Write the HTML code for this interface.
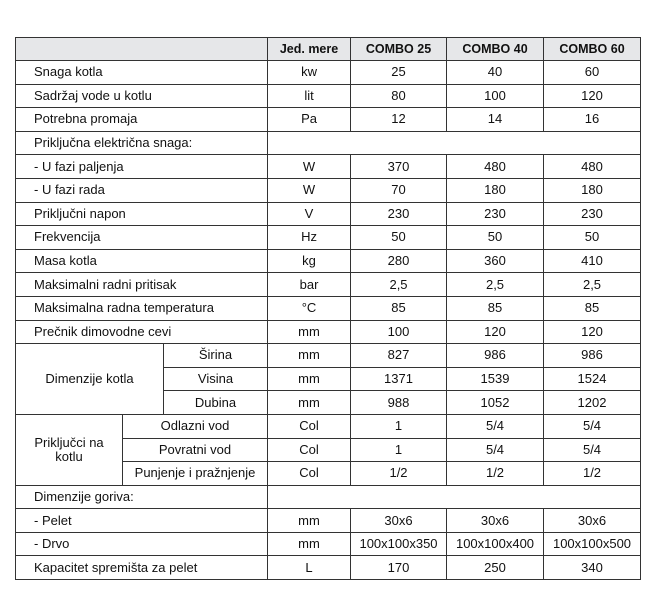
<!DOCTYPE html>
<html><head><meta charset="utf-8"><style>
html,body{margin:0;padding:0;background:#fff;width:657px;height:611px;overflow:hidden}
table{position:absolute;left:15px;top:37px;border-collapse:collapse;table-layout:fixed;width:625px;font-family:"Liberation Sans",Arial,sans-serif;font-size:13px;color:#111}
td{border:1.4px solid #333;padding:0;text-align:center;height:22.6px;line-height:14px;white-space:nowrap;overflow:hidden}
tr.h td{background:#e6e7e9;font-weight:bold;height:22px;font-size:12.5px}
td.l{text-align:left;padding-left:18px}
</style></head><body>
<table>
<colgroup><col style="width:107px"><col style="width:41px"><col style="width:104px"><col style="width:83px"><col style="width:96px"><col style="width:97px"><col style="width:97px"></colgroup>
<tr class="h"><td colspan="3"></td><td>Jed. mere</td><td>COMBO 25</td><td>COMBO 40</td><td>COMBO 60</td></tr>
<tr><td colspan="3" class="l">Snaga kotla</td><td>kw</td><td>25</td><td>40</td><td>60</td></tr>
<tr><td colspan="3" class="l">Sadržaj vode u kotlu</td><td>lit</td><td>80</td><td>100</td><td>120</td></tr>
<tr><td colspan="3" class="l">Potrebna promaja</td><td>Pa</td><td>12</td><td>14</td><td>16</td></tr>
<tr><td colspan="3" class="l">Priključna električna snaga:</td><td colspan="4"></td></tr>
<tr><td colspan="3" class="l">- U fazi paljenja</td><td>W</td><td>370</td><td>480</td><td>480</td></tr>
<tr><td colspan="3" class="l">- U fazi rada</td><td>W</td><td>70</td><td>180</td><td>180</td></tr>
<tr><td colspan="3" class="l">Priključni napon</td><td>V</td><td>230</td><td>230</td><td>230</td></tr>
<tr><td colspan="3" class="l">Frekvencija</td><td>Hz</td><td>50</td><td>50</td><td>50</td></tr>
<tr><td colspan="3" class="l">Masa kotla</td><td>kg</td><td>280</td><td>360</td><td>410</td></tr>
<tr><td colspan="3" class="l">Maksimalni radni pritisak</td><td>bar</td><td>2,5</td><td>2,5</td><td>2,5</td></tr>
<tr><td colspan="3" class="l">Maksimalna radna temperatura</td><td>°C</td><td>85</td><td>85</td><td>85</td></tr>
<tr><td colspan="3" class="l">Prečnik dimovodne cevi</td><td>mm</td><td>100</td><td>120</td><td>120</td></tr>
<tr><td colspan="2" rowspan="3">Dimenzije kotla</td><td>Širina</td><td>mm</td><td>827</td><td>986</td><td>986</td></tr>
<tr><td>Visina</td><td>mm</td><td>1371</td><td>1539</td><td>1524</td></tr>
<tr><td>Dubina</td><td>mm</td><td>988</td><td>1052</td><td>1202</td></tr>
<tr><td rowspan="3" style="white-space:normal">Priključci na<br>kotlu</td><td colspan="2">Odlazni vod</td><td>Col</td><td>1</td><td>5/4</td><td>5/4</td></tr>
<tr><td colspan="2">Povratni vod</td><td>Col</td><td>1</td><td>5/4</td><td>5/4</td></tr>
<tr><td colspan="2">Punjenje i pražnjenje</td><td>Col</td><td>1/2</td><td>1/2</td><td>1/2</td></tr>
<tr><td colspan="3" class="l">Dimenzije goriva:</td><td colspan="4"></td></tr>
<tr><td colspan="3" class="l">- Pelet</td><td>mm</td><td>30x6</td><td>30x6</td><td>30x6</td></tr>
<tr><td colspan="3" class="l">- Drvo</td><td>mm</td><td>100x100x350</td><td>100x100x400</td><td>100x100x500</td></tr>
<tr><td colspan="3" class="l">Kapacitet spremišta za pelet</td><td>L</td><td>170</td><td>250</td><td>340</td></tr>
</table>
</body></html>
